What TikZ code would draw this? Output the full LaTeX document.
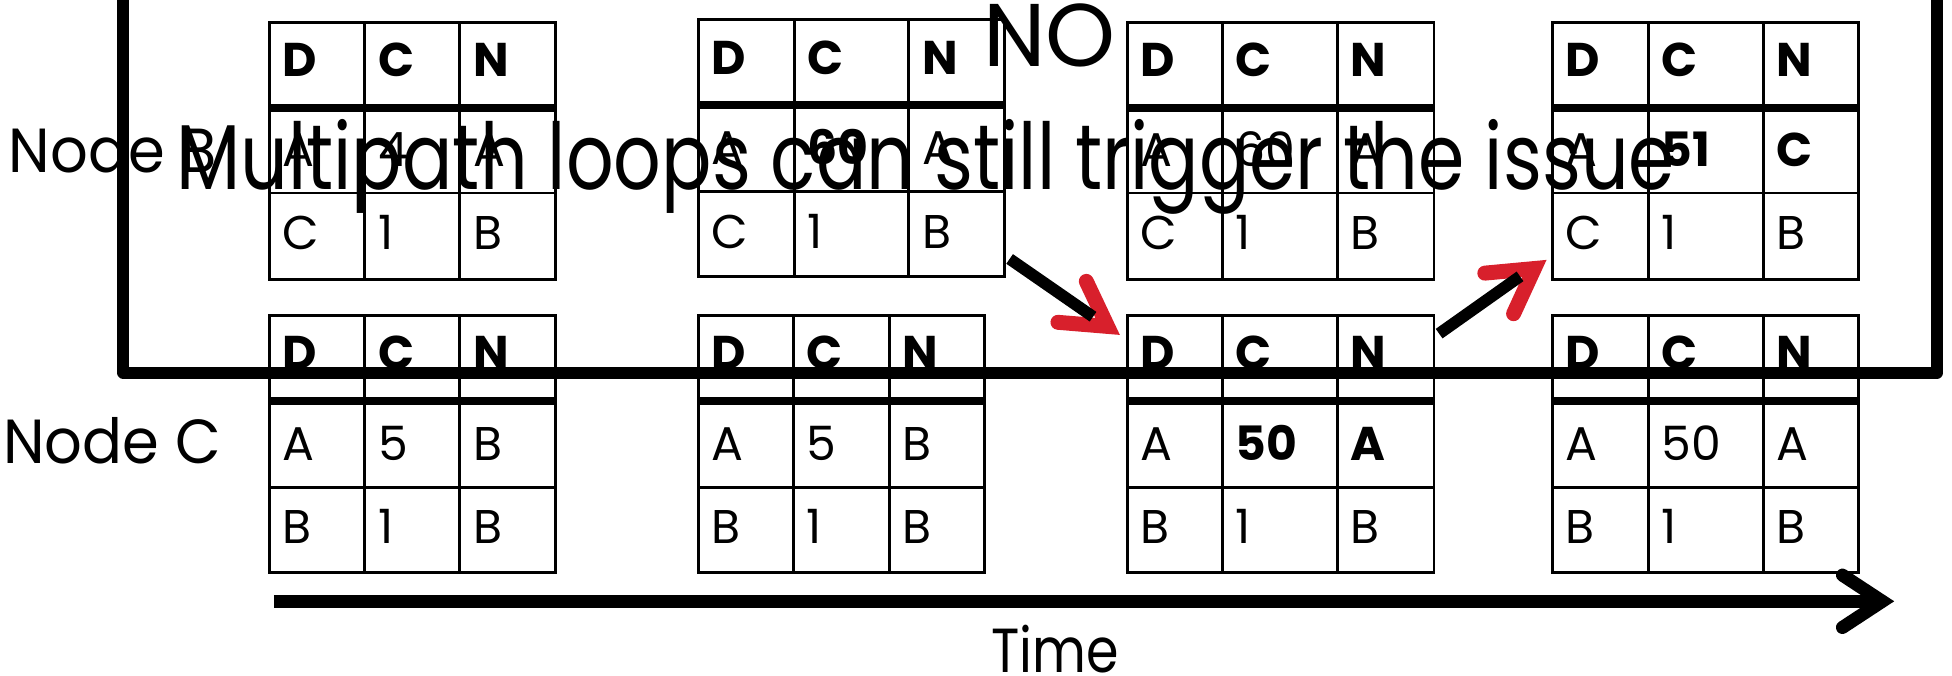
\documentclass[tikz,border=0pt]{standalone}
\usepackage{fontspec}
\setmainfont{Poppins}
\newfontfamily\titlefont{Poppins}[FakeStretch=0.81]
\newfontfamily\labelfont{Poppins}[FakeStretch=0.95]
\newfontfamily\timefont{Poppins}[FakeStretch=0.84]
\usetikzlibrary{calc}
\definecolor{arrowred}{RGB}{216,32,44}
\tikzset{
  gridline/.style={line width=2.1pt},
  headline/.style={line width=6.2pt},
  cell/.style={anchor=base west, inner sep=0pt, font=\fontsize{38}{38}\selectfont},
  sidelabel/.style={anchor=base west, inner sep=0pt, font=\labelfont\fontsize{50}{50}\selectfont},
  bigtext/.style={anchor=base, inner sep=0pt, font=\titlefont\fontsize{74}{74}\selectfont},
  notext/.style={anchor=base, inner sep=0pt, font=\fontsize{71.5}{72}\selectfont},
  timetext/.style={anchor=base, inner sep=0pt, font=\timefont\fontsize{50}{50}\selectfont},
  frameline/.style={line width=9.5pt, line join=round},
  blackconn/.style={line width=9.4pt},
  redtip/.style={arrowred, line width=12pt, line cap=round, line join=miter},
  timeline/.style={line width=10.5pt},
  timetip/.style={line width=10.5pt, line cap=round, line join=miter},
}
% grid: #1 name, #2-#5 column x, #6 top, #7 header rule, #8 row rule, #9 bottom
\newcommand\rtgrid[9]{%
  \draw[gridline] (#2,#6) rectangle (#5,#9);
  \draw[gridline] (#3,#6) -- (#3,#9) (#4,#6) -- (#4,#9) (#2,#8) -- (#5,#8);
  \draw[headline] (#2,#7) -- (#5,#7);
  \coordinate (#1-nw) at (#2,#6);
  \coordinate (#1-se) at (#5,#9);
}
% row text: #1 name, #2 row id, #3 baseline, #4-#6 column x, #7-#9 texts
\newcommand\rtrow[9]{%
  \node[cell] (#1-#2a) at (#4+10.5,#3) {#7};
  \node[cell] (#1-#2b) at (#5+10.5,#3) {#8};
  \node[cell] (#1-#2c) at (#6+10.5,#3) {#9};
}
\begin{document}
\begin{tikzpicture}[x=1pt,y=-1pt]
\useasboundingbox (0,0) rectangle (1568,543);

% ---- Node B tables (top row)
\rtgrid{T1}{216.5}{293}{369.3}{446}{18.2}{86.7}{155}{224.4}
\rtrow{T1}{h}{61.8}{216.5}{293}{369.3}{\textbf{D}}{\textbf{C}}{\textbf{N}}
\rtrow{T1}{1}{133.5}{216.5}{293}{369.3}{A}{4}{A}
\rtrow{T1}{2}{200.5}{216.5}{293}{369.3}{C}{1}{B}

\rtgrid{T2}{561}{638}{730}{807}{15.5}{84.3}{154}{222.2}
\rtrow{T2}{h}{59.5}{561}{638}{730}{\textbf{D}}{\textbf{C}}{\textbf{N}}
\rtrow{T2}{1}{132.5}{561}{638}{730}{A}{\textbf{60}}{A}
\rtrow{T2}{2}{199.5}{561}{638}{730}{C}{1}{B}

\rtgrid{T3}{905.5}{982}{1074.5}{1152}{18}{86.5}{155}{224.3}
\rtrow{T3}{h}{61.6}{905.5}{982}{1074.5}{\textbf{D}}{\textbf{C}}{\textbf{N}}
\rtrow{T3}{1}{133.5}{905.5}{982}{1074.5}{A}{60}{A}
\rtrow{T3}{2}{200.5}{905.5}{982}{1074.5}{C}{1}{B}

\rtgrid{T4}{1247}{1324}{1416.5}{1493}{18}{86.5}{155}{224.3}
\rtrow{T4}{h}{61.6}{1247}{1324}{1416.5}{\textbf{D}}{\textbf{C}}{\textbf{N}}
\rtrow{T4}{1}{133.5}{1247}{1324}{1416.5}{A}{\textbf{51}}{\textbf{C}}
\rtrow{T4}{2}{200.5}{1247}{1324}{1416.5}{C}{1}{B}

% ---- Node C tables (bottom row)
\rtgrid{T5}{216.5}{293}{369.3}{446}{253.5}{322}{391.5}{460}
\rtrow{T5}{h}{297}{216.5}{293}{369.3}{\textbf{D}}{\textbf{C}}{\textbf{N}}
\rtrow{T5}{1}{370}{216.5}{293}{369.3}{A}{5}{B}
\rtrow{T5}{2}{436.5}{216.5}{293}{369.3}{B}{1}{B}

\rtgrid{T6}{561}{637.5}{714.6}{791}{253.5}{322}{391.5}{460}
\rtrow{T6}{h}{297}{561}{637.5}{714.6}{\textbf{D}}{\textbf{C}}{\textbf{N}}
\rtrow{T6}{1}{370}{561}{637.5}{714.6}{A}{5}{B}
\rtrow{T6}{2}{436.5}{561}{637.5}{714.6}{B}{1}{B}

\rtgrid{T7}{905.5}{982}{1074.5}{1152}{253.5}{322}{391.5}{460}
\rtrow{T7}{h}{297}{905.5}{982}{1074.5}{\textbf{D}}{\textbf{C}}{\textbf{N}}
\rtrow{T7}{1}{370}{905.5}{982}{1074.5}{A}{\textbf{50}}{\textbf{A}}
\rtrow{T7}{2}{436.5}{905.5}{982}{1074.5}{B}{1}{B}

\rtgrid{T8}{1247}{1324}{1416.5}{1493}{253.5}{322}{391.5}{460}
\rtrow{T8}{h}{297}{1247}{1324}{1416.5}{\textbf{D}}{\textbf{C}}{\textbf{N}}
\rtrow{T8}{1}{370}{1247}{1324}{1416.5}{A}{50}{A}
\rtrow{T8}{2}{436.5}{1247}{1324}{1416.5}{B}{1}{B}

% ---- side labels
\node[sidelabel] (nodeB) at (7,138.7) {Node B};
\node[sidelabel] (nodeC) at (2.5,372) {Node C};

% ---- frame
\coordinate (fTL) at (99,-10);
\coordinate (fBL) at (99,299.3);
\coordinate (fBR) at (1556,299.3);
\coordinate (fTR) at (1556,-10);
\draw[frameline] (fTL) -- (fBL) -- (fBR) -- (fTR);

% ---- update arrows
\coordinate (a1s) at (811,208);
\coordinate (a1e) at (878,254.4);
\coordinate (a1v) at (889.7,262.2);
\coordinate (a1l) at (849.8,258.9);
\coordinate (a1r) at (872.6,226);
\draw[redtip] (a1l) -- (a1v) -- (a1r);
\draw[blackconn] (a1s) -- (a1e);

\coordinate (a2s) at (1156,268);
\coordinate (a2e) at (1221,222);
\coordinate (a2v) at (1232.5,215.7);
\coordinate (a2l) at (1215.8,252);
\coordinate (a2r) at (1192.7,219.4);
\draw[redtip] (a2l) -- (a2v) -- (a2r);
\draw[blackconn] (a2s) -- (a2e);

% ---- titles
\node[bigtext] (title) at (743.5,152.6) {Multipath loops can still trigger the issue};
\node[notext] (no) at (843,53.5) {NO};

% ---- time axis
\coordinate (t0) at (220,483);
\coordinate (t1) at (1512,483);
\coordinate (tu) at (1480,462);
\coordinate (td) at (1480,504);
\draw[timeline] (t0) -- (t1);
\draw[timetip] (tu) -- (t1) -- (td);
\node[timetext] (time) at (847.5,539.8) {Time};
\end{tikzpicture}
\end{document}
